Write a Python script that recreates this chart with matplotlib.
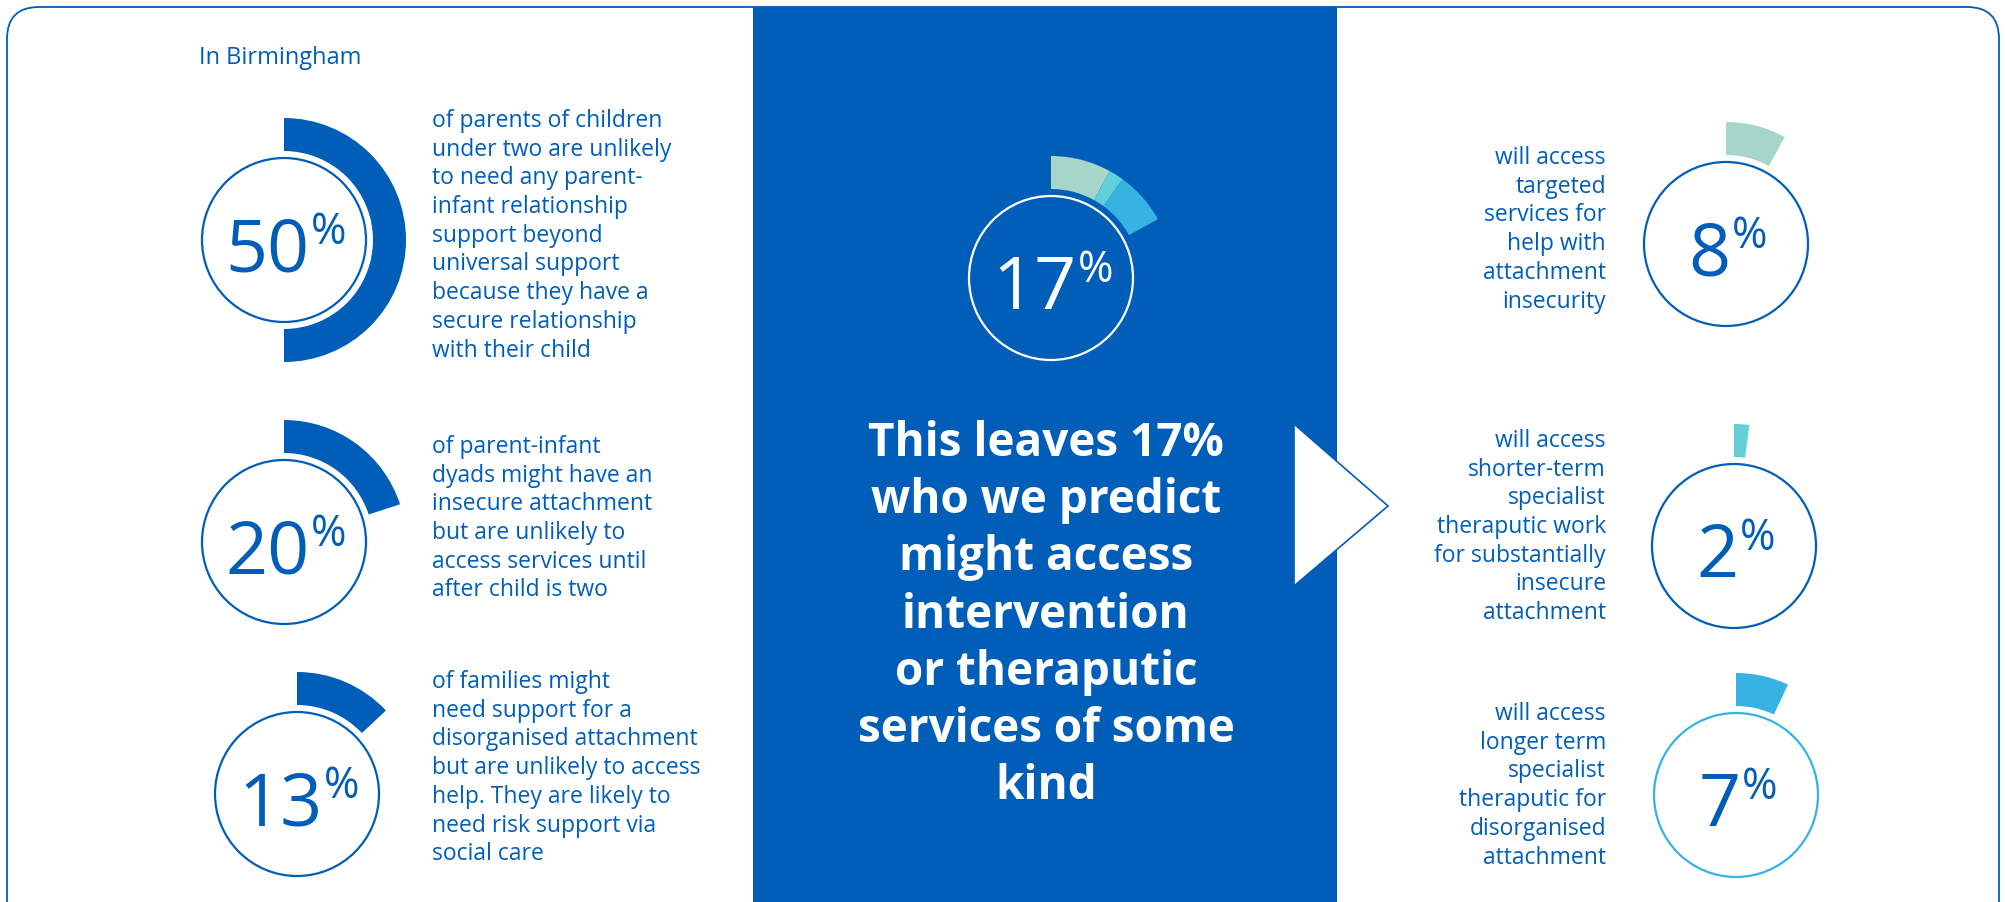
import matplotlib
matplotlib.use("Agg")
import matplotlib.pyplot as plt
from matplotlib.patches import Wedge, Circle, FancyBboxPatch, Rectangle, Polygon

W, H = 2006, 902
NAVY = "#005EB8"
TEAL = "#A6D6CA"
AQUA = "#62D0D8"
SKY = "#36B2E3"
FONT = "Open Sans"

# ---- data ----
place = "In Birmingham"
left_pcts = [50, 20, 13]
left_texts = [
    ["of parents of children", "under two are unlikely", "to need any parent-",
     "infant relationship", "support beyond", "universal support",
     "because they have a", "secure relationship", "with their child"],
    ["of parent-infant", "dyads might have an", "insecure attachment",
     "but are unlikely to", "access services until", "after child is two"],
    ["of families might", "need support for a", "disorganised attachment",
     "but are unlikely to access", "help. They are likely to",
     "need risk support via", "social care"],
]
right_pcts = [8, 2, 7]
right_colors = [TEAL, AQUA, SKY]
right_texts = [
    ["will access", "targeted", "services for", "help with", "attachment",
     "insecurity"],
    ["will access", "shorter-term", "specialist", "theraputic work",
     "for substantially", "insecure", "attachment"],
    ["will access", "longer term", "specialist", "theraputic for",
     "disorganised", "attachment"],
]
headline = ["This leaves 17%", "who we predict", "might access", "intervention",
            "or theraputic", "services of some", "kind"]

# ---- layout (pixels) ----
R_IN, R_OUT, R_CIRC = 89, 122, 82
left_centres = [(284, 240), (284, 542), (297, 794)]
left_first_base = [127, 453, 688]
right_centres = [(1726, 244), (1734, 546), (1736, 795)]
right_first_base = [164, 447, 720]
mid_centre = (1051, 278)
PITCH = 28.7
BODY = 16.5

fig = plt.figure(figsize=(W / 100, H / 100), dpi=100)
ax = fig.add_axes([0, 0, 1, 1])
ax.set_xlim(0, W)
ax.set_ylim(H, 0)
ax.axis("off")

# outer rounded frame and central panel
ax.add_patch(FancyBboxPatch((7, 7), 1992, 930, boxstyle="round,pad=0,rounding_size=32",
                            fc="white", ec=NAVY, lw=1.3, zorder=0))
ax.add_patch(Rectangle((753.5, 7), 583.5, H, fc=NAVY, ec="none", zorder=1))
ax.add_patch(Polygon([(1294, 424), (1294, 586), (1388, 506)], closed=True,
                     fc="white", ec=NAVY, lw=1.2, zorder=2))

renderer = fig.canvas.get_renderer()


def ring(cx, cy, start, pct, color, z=3):
    # arc runs clockwise from 12 o'clock (y axis is flipped)
    a0 = -90 + start * 3.6
    a1 = a0 + pct * 3.6
    ax.add_patch(Wedge((cx, cy), R_OUT, a0, a1, width=R_OUT - R_IN,
                       fc=color, ec="none", zorder=z))


def big_pct(cx, cy, value, color, edge):
    ax.add_patch(Circle((cx, cy), R_CIRC, fc="none", ec=edge, lw=1.6, zorder=3))
    t1 = ax.text(0, 0, str(value), fontsize=53, family=FONT,
                 color=color, ha="left", va="baseline", zorder=4)
    t2 = ax.text(0, 0, "%", fontsize=31, family=FONT,
                 color=color, ha="left", va="baseline", zorder=4)
    w1 = t1.get_window_extent(renderer).width
    w2 = t2.get_window_extent(renderer).width
    gap = 1
    x0 = cx + 2 - (w1 + gap + w2) / 2
    t1.set_position((x0, cy + 31))
    t2.set_position((x0 + w1 + gap, cy + 4))


def block(x, y0, lines, ha):
    for i, line in enumerate(lines):
        ax.text(x, y0 + i * PITCH, line, fontsize=BODY, family=FONT, color=NAVY,
                ha=ha, va="baseline", zorder=4)


ax.text(199, 64, place, fontsize=17, family=FONT, color=NAVY,
        ha="left", va="baseline")

for (cx, cy), pct, lines, yb in zip(left_centres, left_pcts, left_texts, left_first_base):
    ring(cx, cy, 0, pct, NAVY)
    big_pct(cx, cy, pct, NAVY, NAVY)
    block(432, yb, lines, "left")

for (cx, cy), pct, col, lines, yb in zip(right_centres, right_pcts, right_colors,
                                         right_texts, right_first_base):
    ring(cx, cy, 0, pct, col)
    big_pct(cx, cy, pct, NAVY, SKY if col == SKY else NAVY)
    block(1606, yb, lines, "right")

# stacked ring in the middle panel built from the three right-hand shares
start = 0
for pct, col in zip(right_pcts, right_colors):
    ring(mid_centre[0], mid_centre[1], start, pct, col)
    start += pct
big_pct(mid_centre[0], mid_centre[1], sum(right_pcts), "white", "white")

for i, line in enumerate(headline):
    ax.text(1046, 456 + i * 57.2, line, fontsize=33, family=FONT, weight="bold",
            color="white", ha="center", va="baseline", zorder=4)

fig.savefig("out.png", dpi=100)
